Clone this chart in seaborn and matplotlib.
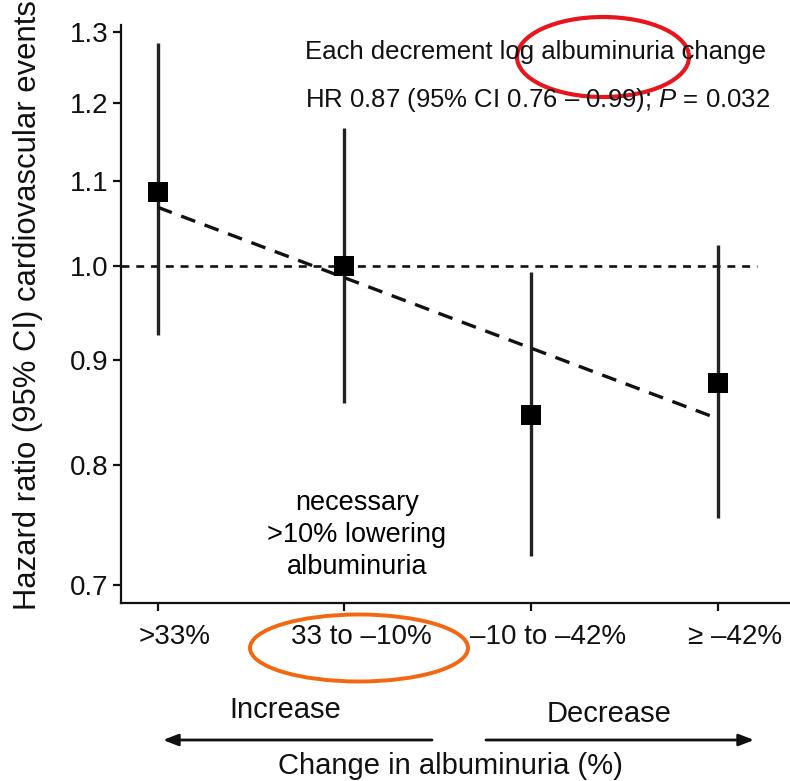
import numpy as np
import pandas as pd
import matplotlib
matplotlib.use("Agg")
import matplotlib.pyplot as plt
import matplotlib.transforms as mtransforms
from matplotlib.patches import Ellipse
import seaborn as sns

# ---- data ----
categories = [">33%", "33 to \u201310%", "\u201310 to \u201342%", "\u2265 \u201342%"]
hr = [1.086, 1.0, 0.846, 0.877]
ci_low = [0.926, 0.858, 0.723, 0.754]
ci_high = [1.284, 1.167, 0.993, 1.024]
trend_hr = [1.068, 0.843]          # fitted trend at first and last category
y_ticks = [0.7, 0.8, 0.9, 1.0, 1.1, 1.2, 1.3]
y_ticklabels = ["0.7", "0.8", "0.9", "1.0", "1.1", "1.2", "1.3"]

sns.set_style("ticks")
plt.rcParams["font.family"] = ["Liberation Sans", "DejaVu Sans"]
plt.rcParams["mathtext.fontset"] = "custom"
plt.rcParams["mathtext.it"] = "Liberation Sans:italic"
plt.rcParams["mathtext.rm"] = "Liberation Sans"

W, H = 790, 781
fig = plt.figure(figsize=(W / 100, H / 100), dpi=100)
ax = fig.add_axes([121 / W, (H - 603) / H, (W - 121) / W + 0.01, (603 - 25) / H])

df = pd.DataFrame({"pos": np.arange(len(categories)), "hr": hr,
                   "lo": ci_low, "hi": ci_high, "cat": categories})

ink = "#111111"
ax.set_yscale("log")
ax.vlines(df["pos"], df["lo"], df["hi"], color="#222222", lw=2.4, zorder=2)
ax.axhline(1.0, xmin=0, xmax=0.94, color=ink, lw=1.9, ls=(0, (3, 2.6)), zorder=1)
trend = pd.DataFrame({"pos": [0, len(categories) - 1], "hr": trend_hr})
sns.lineplot(data=trend, x="pos", y="hr", ax=ax, color=ink, lw=2.4,
             linestyle=(0, (4.5, 3)), zorder=3)
sns.scatterplot(data=df, x="pos", y="hr", ax=ax, marker="s", s=200,
                color="black", edgecolor="black", linewidth=0, zorder=4)

ax.set_ylim(0.6857, 1.3098)
ax.set_xlim(-0.197, 3.43)
ax.set_yticks(y_ticks)
ax.set_yticklabels(y_ticklabels)
ax.yaxis.set_minor_locator(matplotlib.ticker.NullLocator())
ax.set_xticks(df["pos"])
ax.set_xticklabels(categories)
ax.set_xlabel("")
ax.set_ylabel("")
for s in ["top", "right"]:
    ax.spines[s].set_visible(False)
for s in ["left", "bottom"]:
    ax.spines[s].set_linewidth(1.6)
    ax.spines[s].set_color(ink)
ax.tick_params(axis="both", length=6, width=1.6, color=ink, labelsize=20,
               labelcolor="#111111")
ax.tick_params(axis="x", pad=9)
ax.tick_params(axis="y", pad=3)
offset = mtransforms.ScaledTranslation(0.17, 0, fig.dpi_scale_trans)
for lbl in ax.get_xticklabels():
    lbl.set_transform(lbl.get_transform() + offset)

def fp(x, y):
    return (x, H - y)

fig.text(28 / W, (H - 305) / H, "Hazard ratio (95% CI) cardiovascular events",
         rotation=90, ha="center", va="center", fontsize=22.3, color=ink)

fig.text(305 / W, (H - 52) / H, "Each decrement log albuminuria change",
         ha="left", va="center", fontsize=18.5, color=ink)
fig.text(305 / W, (H - 100) / H, "HR 0.87 (95% CI 0.76 \u2013 0.99); $P$ = 0.032",
         ha="left", va="center", fontsize=18.5, color=ink)

fig.text(357 / W, (H - 535) / H, "necessary\n>10% lowering\nalbuminuria",
         ha="center", va="center", multialignment="center", fontsize=19.5,
         color="black", linespacing=1.3)

fig.text(285 / W, (H - 710) / H, "Increase", ha="center", va="center",
         fontsize=21, color=ink)
fig.text(609 / W, (H - 714) / H, "Decrease", ha="center", va="center",
         fontsize=21, color=ink)
fig.text(450 / W, (H - 766) / H, "Change in albuminuria (%)", ha="center",
         va="center", fontsize=21, color=ink)

arrowprops = dict(arrowstyle="-|>,head_length=0.9,head_width=0.35",
                  color=ink, lw=2.0, shrinkA=0, shrinkB=0)
fig.add_artist(matplotlib.text.Annotation("", xy=fp(163, 740), xytext=fp(432, 740),
               xycoords="figure pixels", textcoords="figure pixels",
               arrowprops=arrowprops))
fig.add_artist(matplotlib.text.Annotation("", xy=fp(754, 740), xytext=fp(486, 740),
               xycoords="figure pixels", textcoords="figure pixels",
               arrowprops=arrowprops))

fig.add_artist(Ellipse((603 / 100, (H - 57) / 100), 1.72, 0.80,
                       transform=fig.dpi_scale_trans, fill=False,
                       edgecolor="#e8161c", lw=3.0))
fig.add_artist(Ellipse((359 / 100, (H - 648) / 100), 2.18, 0.67,
                       transform=fig.dpi_scale_trans, fill=False,
                       edgecolor="#f4660f", lw=2.8))

fig.savefig("out.png", dpi=100)
